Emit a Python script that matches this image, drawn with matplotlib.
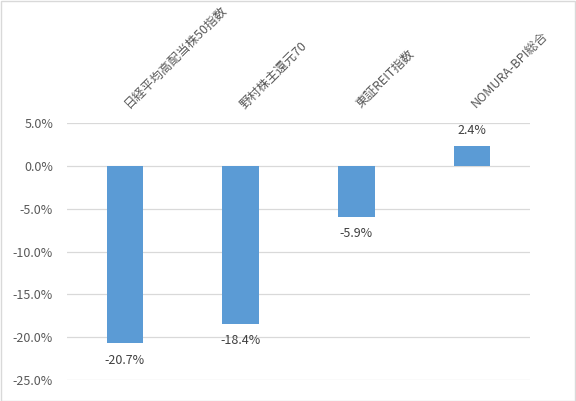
import numpy as np
import matplotlib
matplotlib.use("Agg")
import matplotlib.pyplot as plt
from matplotlib.patches import Rectangle
from matplotlib.ticker import FuncFormatter

plt.rcParams['font.family'] = ['Noto Sans CJK JP', 'DejaVu Sans']

# data
categories = ['日経平均高配当株50指数', '野村株主還元70', '東証REIT指数', 'NOMURA-BPI総合']
values = [-20.7, -18.4, -5.9, 2.4]
yticks = [5, 0, -5, -10, -15, -20, -25]

bar_color = '#5b9bd5'
grid_color = '#d9d9d9'
text_color = '#595959'
label_color = '#404040'

fig = plt.figure(figsize=(5.76, 4.01), dpi=100)
ax = fig.add_axes([67/576, 1 - 380/401, (530 - 67)/576, (380 - 123.3)/401])

x = np.arange(len(categories))
bars = ax.bar(x, values, width=0.315, color=bar_color, zorder=3)

ax.set_xlim(-0.5, len(categories) - 0.5)
ax.set_ylim(-25, 5)
ax.set_yticks(yticks)
ax.yaxis.set_major_formatter(FuncFormatter(lambda v, p: f"{v:.1f}%"))
ax.tick_params(axis='y', length=0, pad=10, labelsize=9, labelcolor=text_color)
ax.set_xticks([])
ax.grid(axis='y', color=grid_color, linewidth=0.9, zorder=0)
for s in ax.spines.values():
    s.set_visible(False)

# data labels
for xi, v in zip(x, values):
    off = 11 if v > 0 else -12.5
    ax.annotate(f"{v:.1f}%", xy=(xi, v), xytext=(0, off), textcoords='offset points',
                ha='center', va='center', fontsize=9, color=label_color)

# rotated category labels above the plot
for xi, c in zip(x, categories):
    ax.annotate(c, xy=(xi, 1), xycoords=('data', 'axes fraction'),
                xytext=(3, 10.5), textcoords='offset points',
                rotation=45, rotation_mode='anchor', ha='left', va='baseline',
                fontsize=9, color=text_color)

# chart border
fig.patches.append(Rectangle((0.5/576, 0.5/401), 1 - 1.5/576, 1 - 1.5/401,
                             transform=fig.transFigure, fill=False,
                             edgecolor=grid_color, linewidth=1))

fig.savefig('out.png', dpi=100)
